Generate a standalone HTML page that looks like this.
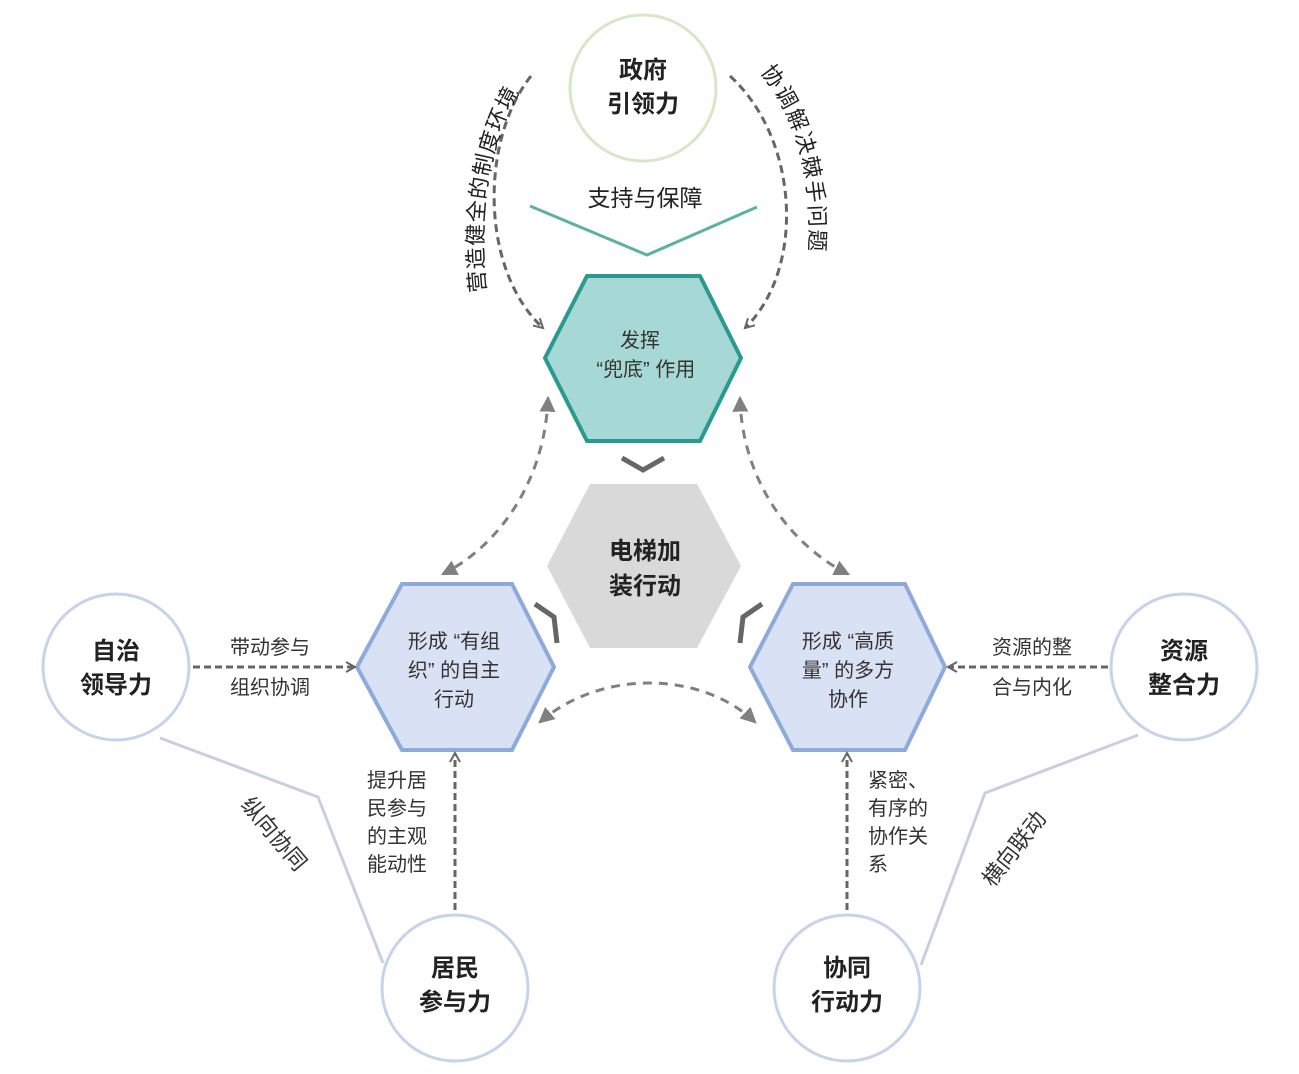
<!DOCTYPE html>
<html><head><meta charset="utf-8"><style>
html,body{margin:0;padding:0;background:#fff;}
svg{display:block;font-family:"Liberation Sans","Noto Sans CJK SC",sans-serif;}
</style></head><body>
<svg width="1299" height="1074" viewBox="0 0 1299 1074" xmlns="http://www.w3.org/2000/svg">
<defs>
<marker id="a" viewBox="0 0 12 12" refX="10" refY="6" markerWidth="12" markerHeight="12" markerUnits="userSpaceOnUse" orient="auto"><path d="M1,1 L10,6 L1,11" fill="none" stroke="#666" stroke-width="2"/></marker>
<marker id="t" viewBox="0 0 14 14" refX="12" refY="7" markerWidth="16" markerHeight="16" markerUnits="userSpaceOnUse" orient="auto"><path d="M0,0 L14,7 L0,14 Z" fill="#808080"/></marker>
<marker id="ts" viewBox="0 0 14 14" refX="2" refY="7" markerWidth="16" markerHeight="16" markerUnits="userSpaceOnUse" orient="auto"><path d="M14,0 L0,7 L14,14 Z" fill="#808080"/></marker>
<path id="lp" d="M486,292 C476,200 492,120 540,62"/>
<path id="rp" d="M760,72 C800,120 815,190 808,265"/>
</defs>

<polyline points="160,738 318,797 383,963" fill="none" stroke="#c8d0e0" stroke-width="3"/>
<polyline points="1138,735 985,793 921,965" fill="none" stroke="#c8d0e0" stroke-width="3"/>

<circle cx="643" cy="88" r="73" fill="#fff" stroke="#d7e8c8" stroke-width="3"/>
<circle cx="116" cy="667" r="73" fill="#fff" stroke="#c5d3ec" stroke-width="3"/>
<circle cx="1184" cy="667" r="73" fill="#fff" stroke="#c5d3ec" stroke-width="3"/>
<circle cx="455" cy="988" r="73" fill="#fff" stroke="#c5d3ec" stroke-width="3"/>
<circle cx="847" cy="988" r="73" fill="#fff" stroke="#c5d3ec" stroke-width="3"/>

<path d="M531,76 C480,140 480,270 543,328" fill="none" stroke="#666" stroke-width="3" stroke-dasharray="8,5" marker-end="url(#a)"/>
<path d="M730,76 C800,140 805,270 745,328" fill="none" stroke="#666" stroke-width="3" stroke-dasharray="8,5" marker-end="url(#a)"/>
<text font-size="22" fill="#222" letter-spacing="1"><textPath href="#lp">营造健全的制度环境</textPath></text>
<text font-size="22" fill="#222" letter-spacing="2"><textPath href="#rp">协调解决棘手问题</textPath></text>

<polyline points="530,206 647,255 757,207" fill="none" stroke="#5db39a" stroke-width="3"/>
<text x="645" y="206" font-size="23" text-anchor="middle" fill="#222">支持与保障</text>

<polygon points="545,358 587,276 700,276 741,358 700,441 587,441" fill="#a6d8d5" stroke="#2a9a90" stroke-width="4"/>
<text x="640" y="347" font-size="20" text-anchor="middle" fill="#333">发挥</text>
<text x="643" y="376" font-size="20" text-anchor="middle" fill="#333" xml:space="preserve"> “兜底” 作用</text>
<polyline points="622,458 643,470 664,458" fill="none" stroke="#666" stroke-width="5"/>

<polygon points="547,566 590,484 697,484 741,566 697,648 590,648" fill="#d9d9d9"/>
<text x="645" y="559" font-size="24" font-weight="bold" text-anchor="middle" fill="#222">电梯加</text>
<text x="645" y="594" font-size="24" font-weight="bold" text-anchor="middle" fill="#222">装行动</text>
<polyline points="535,604 554,617 557,643" fill="none" stroke="#666" stroke-width="5"/>
<polyline points="762,604 743,617 740,643" fill="none" stroke="#666" stroke-width="5"/>

<polygon points="357,667 402,584 512,584 554,667 512,750 402,750" fill="#d9e2f5" stroke="#8eaadb" stroke-width="4"/>
<polygon points="750,667 793,584 905,584 945,667 905,750 793,750" fill="#d9e2f5" stroke="#8eaadb" stroke-width="4"/>
<g font-size="20" text-anchor="middle" fill="#333" xml:space="preserve">
<text x="454" y="648">形成 “有组</text>
<text x="454" y="677">织” 的自主</text>
<text x="454" y="706">行动</text>
<text x="848" y="648">形成 “高质</text>
<text x="848" y="677">量” 的多方</text>
<text x="848" y="706">协作</text>
</g>

<path d="M548,398 C545,480 500,545 443,574" fill="none" stroke="#808080" stroke-width="3" stroke-dasharray="9,7" marker-start="url(#ts)" marker-end="url(#t)"/>
<path d="M740,398 C742,480 790,545 848,574" fill="none" stroke="#808080" stroke-width="3" stroke-dasharray="9,7" marker-start="url(#ts)" marker-end="url(#t)"/>
<path d="M540,722 C600,670 700,670 755,722" fill="none" stroke="#808080" stroke-width="3" stroke-dasharray="9,7" marker-start="url(#ts)" marker-end="url(#t)"/>

<line x1="193" y1="667" x2="355" y2="667" stroke="#666" stroke-width="3" stroke-dasharray="7,4" marker-end="url(#a)"/>
<line x1="1108" y1="667" x2="948" y2="667" stroke="#666" stroke-width="3" stroke-dasharray="7,4" marker-end="url(#a)"/>
<line x1="455" y1="910" x2="455" y2="753" stroke="#666" stroke-width="3" stroke-dasharray="7,4" marker-end="url(#a)"/>
<line x1="847" y1="910" x2="847" y2="753" stroke="#666" stroke-width="3" stroke-dasharray="7,4" marker-end="url(#a)"/>

<g font-size="24" font-weight="bold" text-anchor="middle" fill="#222">
<text x="643" y="78">政府</text><text x="643" y="112">引领力</text>
<text x="116" y="659">自治</text><text x="116" y="693">领导力</text>
<text x="1184" y="659">资源</text><text x="1184" y="693">整合力</text>
<text x="455" y="976">居民</text><text x="455" y="1010">参与力</text>
<text x="847" y="976">协同</text><text x="847" y="1010">行动力</text>
</g>

<g font-size="20" fill="#333">
<text x="270" y="654" text-anchor="middle">带动参与</text>
<text x="270" y="694" text-anchor="middle">组织协调</text>
<text x="1032" y="654" text-anchor="middle">资源的整</text>
<text x="1032" y="694" text-anchor="middle">合与内化</text>
<text x="367" y="787">提升居</text><text x="367" y="815">民参与</text><text x="367" y="843">的主观</text><text x="367" y="871">能动性</text>
<text x="868" y="787">紧密、</text><text x="868" y="815">有序的</text><text x="868" y="843">协作关</text><text x="868" y="871">系</text>
<text x="0" y="0" font-size="22" transform="translate(240,805) rotate(50)">纵向协同</text>
<text x="0" y="0" font-size="22" transform="translate(993,888) rotate(-52)">横向联动</text>
</g>
</svg>
</body></html>
